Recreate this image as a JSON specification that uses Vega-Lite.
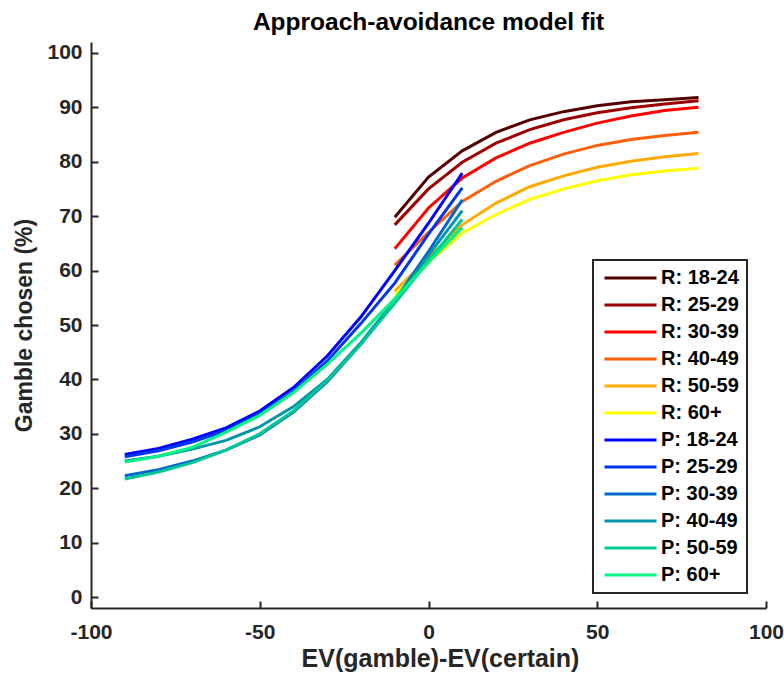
{
  "$schema": "https://vega.github.io/schema/vega-lite/v6.json",
  "width": 675,
  "height": 566,
  "autosize": {"type": "none"},
  "padding": {"left": 91, "top": 42, "right": 18, "bottom": 69},
  "background": "white",
  "title": {"text": "Approach-avoidance model fit", "font": "Liberation Sans", "fontSize": 24.5, "fontWeight": "bold", "color": "#000000", "offset": 6, "anchor": "middle"},
  "data": {
    "values": [
      {"s": "R: 18-24", "x": -10, "y": 69.8}, {"s": "R: 18-24", "x": 0, "y": 77.2}, {"s": "R: 18-24", "x": 10, "y": 82.0}, {"s": "R: 18-24", "x": 20, "y": 85.4}, {"s": "R: 18-24", "x": 30, "y": 87.7}, {"s": "R: 18-24", "x": 40, "y": 89.2}, {"s": "R: 18-24", "x": 50, "y": 90.3}, {"s": "R: 18-24", "x": 60, "y": 91.0}, {"s": "R: 18-24", "x": 70, "y": 91.4}, {"s": "R: 18-24", "x": 80, "y": 91.8},
      {"s": "R: 25-29", "x": -10, "y": 68.4}, {"s": "R: 25-29", "x": 0, "y": 75.0}, {"s": "R: 25-29", "x": 10, "y": 79.9}, {"s": "R: 25-29", "x": 20, "y": 83.4}, {"s": "R: 25-29", "x": 30, "y": 85.9}, {"s": "R: 25-29", "x": 40, "y": 87.7}, {"s": "R: 25-29", "x": 50, "y": 89.0}, {"s": "R: 25-29", "x": 60, "y": 89.9}, {"s": "R: 25-29", "x": 70, "y": 90.6}, {"s": "R: 25-29", "x": 80, "y": 91.2},
      {"s": "R: 30-39", "x": -10, "y": 64.0}, {"s": "R: 30-39", "x": 0, "y": 71.5}, {"s": "R: 30-39", "x": 10, "y": 77.0}, {"s": "R: 30-39", "x": 20, "y": 80.7}, {"s": "R: 30-39", "x": 30, "y": 83.4}, {"s": "R: 30-39", "x": 40, "y": 85.4}, {"s": "R: 30-39", "x": 50, "y": 87.1}, {"s": "R: 30-39", "x": 60, "y": 88.4}, {"s": "R: 30-39", "x": 70, "y": 89.4}, {"s": "R: 30-39", "x": 80, "y": 90.0},
      {"s": "R: 40-49", "x": -10, "y": 61.0}, {"s": "R: 40-49", "x": 0, "y": 67.0}, {"s": "R: 40-49", "x": 10, "y": 72.7}, {"s": "R: 40-49", "x": 20, "y": 76.4}, {"s": "R: 40-49", "x": 30, "y": 79.3}, {"s": "R: 40-49", "x": 40, "y": 81.4}, {"s": "R: 40-49", "x": 50, "y": 83.0}, {"s": "R: 40-49", "x": 60, "y": 84.1}, {"s": "R: 40-49", "x": 70, "y": 84.8}, {"s": "R: 40-49", "x": 80, "y": 85.4},
      {"s": "R: 50-59", "x": -10, "y": 56.2}, {"s": "R: 50-59", "x": 0, "y": 62.4}, {"s": "R: 50-59", "x": 10, "y": 68.4}, {"s": "R: 50-59", "x": 20, "y": 72.4}, {"s": "R: 50-59", "x": 30, "y": 75.4}, {"s": "R: 50-59", "x": 40, "y": 77.4}, {"s": "R: 50-59", "x": 50, "y": 79.0}, {"s": "R: 50-59", "x": 60, "y": 80.1}, {"s": "R: 50-59", "x": 70, "y": 80.9}, {"s": "R: 50-59", "x": 80, "y": 81.5},
      {"s": "R: 60+", "x": -10, "y": 55.5}, {"s": "R: 60+", "x": 0, "y": 61.5}, {"s": "R: 60+", "x": 10, "y": 66.9}, {"s": "R: 60+", "x": 20, "y": 70.3}, {"s": "R: 60+", "x": 30, "y": 73.1}, {"s": "R: 60+", "x": 40, "y": 75.0}, {"s": "R: 60+", "x": 50, "y": 76.5}, {"s": "R: 60+", "x": 60, "y": 77.6}, {"s": "R: 60+", "x": 70, "y": 78.3}, {"s": "R: 60+", "x": 80, "y": 78.8},
      {"s": "P: 18-24", "x": -90, "y": 26.2}, {"s": "P: 18-24", "x": -80, "y": 27.3}, {"s": "P: 18-24", "x": -70, "y": 29.0}, {"s": "P: 18-24", "x": -60, "y": 31.1}, {"s": "P: 18-24", "x": -50, "y": 34.2}, {"s": "P: 18-24", "x": -40, "y": 38.5}, {"s": "P: 18-24", "x": -30, "y": 44.3}, {"s": "P: 18-24", "x": -20, "y": 51.5}, {"s": "P: 18-24", "x": -10, "y": 60.0}, {"s": "P: 18-24", "x": 0, "y": 68.7}, {"s": "P: 18-24", "x": 10, "y": 77.9},
      {"s": "P: 25-29", "x": -90, "y": 25.8}, {"s": "P: 25-29", "x": -80, "y": 26.9}, {"s": "P: 25-29", "x": -70, "y": 28.5}, {"s": "P: 25-29", "x": -60, "y": 30.6}, {"s": "P: 25-29", "x": -50, "y": 33.7}, {"s": "P: 25-29", "x": -40, "y": 37.8}, {"s": "P: 25-29", "x": -30, "y": 43.4}, {"s": "P: 25-29", "x": -20, "y": 50.3}, {"s": "P: 25-29", "x": -10, "y": 57.7}, {"s": "P: 25-29", "x": 0, "y": 66.7}, {"s": "P: 25-29", "x": 10, "y": 75.2},
      {"s": "P: 30-39", "x": -90, "y": 22.3}, {"s": "P: 30-39", "x": -80, "y": 23.4}, {"s": "P: 30-39", "x": -70, "y": 25.0}, {"s": "P: 30-39", "x": -60, "y": 27.0}, {"s": "P: 30-39", "x": -50, "y": 29.8}, {"s": "P: 30-39", "x": -40, "y": 34.0}, {"s": "P: 30-39", "x": -30, "y": 39.6}, {"s": "P: 30-39", "x": -20, "y": 46.5}, {"s": "P: 30-39", "x": -10, "y": 54.5}, {"s": "P: 30-39", "x": 0, "y": 63.5}, {"s": "P: 30-39", "x": 10, "y": 73.0},
      {"s": "P: 40-49", "x": -90, "y": 25.0}, {"s": "P: 40-49", "x": -80, "y": 25.9}, {"s": "P: 40-49", "x": -70, "y": 27.2}, {"s": "P: 40-49", "x": -60, "y": 28.8}, {"s": "P: 40-49", "x": -50, "y": 31.3}, {"s": "P: 40-49", "x": -40, "y": 35.0}, {"s": "P: 40-49", "x": -30, "y": 40.0}, {"s": "P: 40-49", "x": -20, "y": 46.8}, {"s": "P: 40-49", "x": -10, "y": 54.5}, {"s": "P: 40-49", "x": 0, "y": 62.8}, {"s": "P: 40-49", "x": 10, "y": 71.0},
      {"s": "P: 50-59", "x": -90, "y": 21.7}, {"s": "P: 50-59", "x": -80, "y": 23.0}, {"s": "P: 50-59", "x": -70, "y": 24.7}, {"s": "P: 50-59", "x": -60, "y": 27.0}, {"s": "P: 50-59", "x": -50, "y": 30.0}, {"s": "P: 50-59", "x": -40, "y": 34.2}, {"s": "P: 50-59", "x": -30, "y": 39.8}, {"s": "P: 50-59", "x": -20, "y": 46.5}, {"s": "P: 50-59", "x": -10, "y": 54.0}, {"s": "P: 50-59", "x": 0, "y": 61.8}, {"s": "P: 50-59", "x": 10, "y": 69.4},
      {"s": "P: 60+", "x": -90, "y": 24.8}, {"s": "P: 60+", "x": -80, "y": 25.9}, {"s": "P: 60+", "x": -70, "y": 27.5}, {"s": "P: 60+", "x": -60, "y": 30.3}, {"s": "P: 60+", "x": -50, "y": 33.4}, {"s": "P: 60+", "x": -40, "y": 37.6}, {"s": "P: 60+", "x": -30, "y": 42.8}, {"s": "P: 60+", "x": -20, "y": 48.5}, {"s": "P: 60+", "x": -10, "y": 54.8}, {"s": "P: 60+", "x": 0, "y": 61.5}, {"s": "P: 60+", "x": 10, "y": 67.9}
    ]
  },
  "mark": {"type": "line", "strokeWidth": 3, "clip": true},
  "encoding": {
    "x": {
      "field": "x", "type": "quantitative",
      "scale": {"domain": [-100, 100], "nice": false, "zero": false},
      "axis": {"values": [-100, -50, 0, 50, 100], "labelExpr": "'' + datum.value", "labelFlush": false, "title": "EV(gamble)-EV(certain)", "titleFontSize": 25, "grid": false, "tickSize": -7, "labelPadding": 20, "titlePadding": 4, "titleX": 349}
    },
    "y": {
      "field": "y", "type": "quantitative",
      "scale": {"domain": [-2, 102], "nice": false, "zero": false},
      "axis": {"values": [0, 10, 20, 30, 40, 50, 60, 70, 80, 90, 100], "labelFlush": false, "title": "Gamble chosen (%)", "grid": false, "tickSize": -7, "labelPadding": 16, "titlePadding": 10}
    },
    "color": {
      "field": "s", "type": "nominal",
      "scale": {
        "domain": ["R: 18-24", "R: 25-29", "R: 30-39", "R: 40-49", "R: 50-59", "R: 60+", "P: 18-24", "P: 25-29", "P: 30-39", "P: 40-49", "P: 50-59", "P: 60+"],
        "range": ["#540000", "#9c0000", "#ff0000", "#ff5f0a", "#ffaa00", "#ffff00", "#0000ff", "#0036ee", "#0068cc", "#0096aa", "#00c894", "#00f585"]
      },
      "legend": {
        "title": null, "orient": "none", "legendX": 502, "legendY": 218,
        "symbolType": "M-1,0H7", "symbolSize": 169, "symbolStrokeWidth": 3,
        "labelFontSize": 20, "labelFont": "Liberation Sans", "labelFontWeight": "bold", "labelColor": "#000000",
        "strokeColor": "#262626", "padding": 8, "rowPadding": 7, "labelOffset": 40, "fillColor": "white"
      }
    }
  },
  "config": {
    "view": {"stroke": null},
    "legend": {"strokeWidth": 2},
    "axis": {
      "domainColor": "#262626", "domainWidth": 2, "tickColor": "#262626", "tickWidth": 2,
      "labelFont": "Liberation Sans", "labelFontSize": 21, "labelFontWeight": "bold", "labelColor": "#262626",
      "titleFont": "Liberation Sans", "titleFontSize": 23, "titleFontWeight": "bold", "titleColor": "#262626"
    }
  }
}
